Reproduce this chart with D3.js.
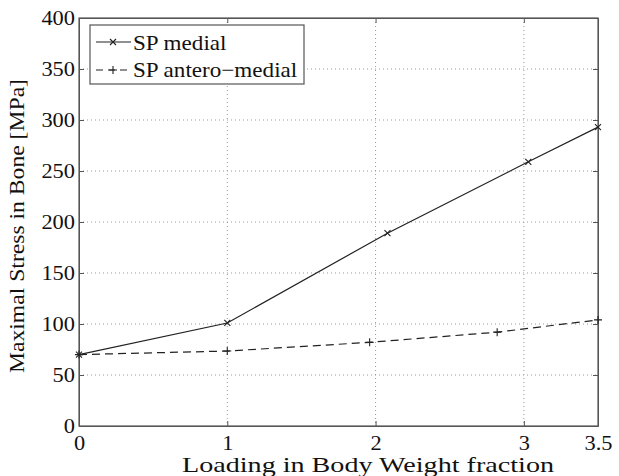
<!DOCTYPE html>
<html>
<head>
<meta charset="utf-8">
<script src="https://d3js.org/d3.v7.min.js"></script>
<style>
  body { margin: 0; background: #fff; }
  svg text { font-family: "Liberation Serif", "Times New Roman", Times, serif; fill: #111; }
</style>
</head>
<body>
<svg id="chart" width="619" height="476"></svg>
<script>
// values
var medialX = [0, 1, 2.08, 3.03, 3.5];
var medialY = [70, 101, 189, 259, 293];
var anteroX = [0, 1, 1.96, 2.82, 3.5];
var anteroY = [70, 73.5, 82, 92, 104];
var xTicks = [0, 1, 2, 3, 3.5];
var yTicks = [0, 50, 100, 150, 200, 250, 300, 350, 400];
var seriesNames = ["SP medial", "SP antero\u2212medial"];

var svg = d3.select("#chart"),
  margin = {top: 18, right: 21, bottom: 50, left: 79},
  width = +svg.attr("width") - margin.left - margin.right,
  height = +svg.attr("height") - margin.top - margin.bottom;

var x = d3.scaleLinear().domain([0, 3.5]).range([0, width]);
var y = d3.scaleLinear().domain([0, 400]).range([height, 0]);

// the scanned figure is a bit wider than tall, so widen the glyphs
function stretch(sel, k) {
  sel.each(function() {
    var w = this.getComputedTextLength();
    d3.select(this).attr("textLength", w * k).attr("lengthAdjust", "spacingAndGlyphs");
  });
}

var g = svg.append("g")
  .attr("transform", "translate(" + margin.left + "," + margin.top + ")");

// grid
g.selectAll(".vgrid")
  .data(xTicks.slice(1, -1))
  .enter().append("line")
    .attr("x1", function(d) { return x(d); })
    .attr("x2", function(d) { return x(d); })
    .attr("y1", 0).attr("y2", height)
    .attr("stroke", "#999").attr("stroke-width", 1)
    .attr("stroke-dasharray", "1,3");
g.selectAll(".hgrid")
  .data(yTicks.slice(1, -1))
  .enter().append("line")
    .attr("y1", function(d) { return y(d); })
    .attr("y2", function(d) { return y(d); })
    .attr("x1", 0).attr("x2", width)
    .attr("stroke", "#999").attr("stroke-width", 1)
    .attr("stroke-dasharray", "1,3");

// axes, ticks pointing inward like matlab
var ax = g.append("g").attr("class", "axes");
ax.append("g")
  .attr("transform", "translate(0," + height + ")")
  .call(d3.axisBottom(x).tickValues(xTicks).tickSizeInner(-5).tickSizeOuter(0).tickPadding(10)
    .tickFormat(d3.format("")));
ax.append("g")
  .call(d3.axisTop(x).tickValues(xTicks).tickSizeInner(-5).tickSizeOuter(0).tickFormat(""));
ax.append("g")
  .call(d3.axisLeft(y).tickValues(yTicks).tickSizeInner(-5).tickSizeOuter(0).tickPadding(4));
ax.append("g")
  .attr("transform", "translate(" + width + ",0)")
  .call(d3.axisRight(y).tickValues(yTicks).tickSizeInner(-5).tickSizeOuter(0).tickFormat(""));
ax.selectAll(".domain").attr("stroke", "#555");
ax.selectAll(".tick line").attr("stroke", "#555");
ax.selectAll(".tick text").attr("font-size", 20).attr("fill", "#111")
  .call(stretch, 1.12);
g.append("rect")
  .attr("width", width).attr("height", height)
  .attr("fill", "none").attr("stroke", "#555").attr("stroke-width", 1.2);

// lines
function pts(xs, ys) {
  return xs.map(function(v, i) { return [v, ys[i]]; });
}
var line = d3.line()
  .x(function(d) { return x(d[0]); })
  .y(function(d) { return y(d[1]); });

var medial = pts(medialX, medialY);
var antero = pts(anteroX, anteroY);

g.append("path").datum(medial)
  .attr("d", line).attr("fill", "none").attr("stroke", "#222").attr("stroke-width", 1.2);
g.append("path").datum(antero)
  .attr("d", line).attr("fill", "none").attr("stroke", "#222").attr("stroke-width", 1.2)
  .attr("stroke-dasharray", "8,5");

function crossX(sel, s) {
  sel.append("path")
    .attr("d", "M" + (-s) + "," + (-s) + "L" + s + "," + s + "M" + (-s) + "," + s + "L" + s + "," + (-s))
    .attr("stroke", "#222").attr("stroke-width", 1.1);
}
function plus(sel, s) {
  sel.append("path")
    .attr("d", "M" + (-s) + ",0L" + s + ",0M0," + (-s) + "L0," + s)
    .attr("stroke", "#222").attr("stroke-width", 1.1);
}

g.selectAll(".mx").data(medial).enter().append("g")
  .attr("transform", function(d) { return "translate(" + x(d[0]) + "," + y(d[1]) + ")"; })
  .each(function() { crossX(d3.select(this), 3); });
g.selectAll(".px").data(antero).enter().append("g")
  .attr("transform", function(d) { return "translate(" + x(d[0]) + "," + y(d[1]) + ")"; })
  .each(function() { plus(d3.select(this), 4); });

// legend
var leg = g.append("g").attr("transform", "translate(11,7)");
leg.append("rect")
  .attr("width", 214).attr("height", 59)
  .attr("fill", "#fff").attr("stroke", "#555").attr("stroke-width", 1.2);
var row1 = leg.append("g").attr("transform", "translate(0,17)");
row1.append("line").attr("x1", 6).attr("x2", 41).attr("stroke", "#222").attr("stroke-width", 1.2);
crossX(row1.append("g").attr("transform", "translate(23,0)"), 3);
row1.append("text").attr("x", 43).attr("y", 8).attr("font-size", 21).text(seriesNames[0])
  .call(stretch, 1.1);
var row2 = leg.append("g").attr("transform", "translate(0,45)");
row2.append("line").attr("x1", 6).attr("x2", 41).attr("stroke", "#222").attr("stroke-width", 1.2)
  .attr("stroke-dasharray", "7,5");
plus(row2.append("g").attr("transform", "translate(23,0)"), 4);
row2.append("text").attr("x", 43).attr("y", 7).attr("font-size", 21).text(seriesNames[1])
  .call(stretch, 1.1);

// axis labels
svg.append("text")
  .attr("x", 182).attr("y", 472)
  .attr("font-size", 22)
  .attr("textLength", 372).attr("lengthAdjust", "spacingAndGlyphs")
  .text("Loading in Body Weight fraction");
svg.append("text")
  .attr("transform", "translate(24,373) rotate(-90)")
  .attr("font-size", 22)
  .attr("textLength", 294).attr("lengthAdjust", "spacingAndGlyphs")
  .text("Maximal Stress in Bone [MPa]");
</script>
</body>
</html>
